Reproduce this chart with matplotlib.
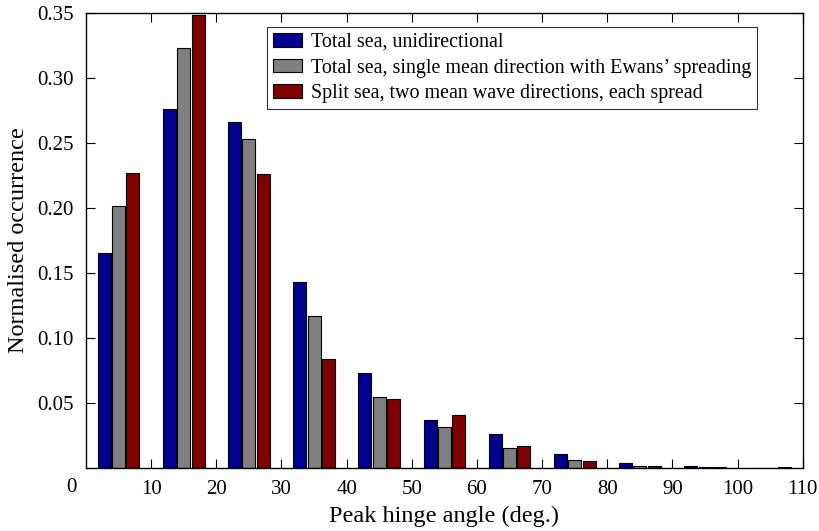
import numpy as np
import matplotlib
matplotlib.use("Agg")
import matplotlib.pyplot as plt

# Peak hinge angle bins (deg.) and normalised occurrence per sea-state model
bin_centres = [5, 15, 25, 35, 45, 55, 65, 75, 85, 95, 105]
total_uni = [0.165, 0.276, 0.266, 0.143, 0.073, 0.037, 0.026, 0.0108, 0.0038, 0.0010, 0.0]
total_spread = [0.201, 0.3226, 0.253, 0.1167, 0.0541, 0.0316, 0.0149, 0.0057, 0.0015, 0.0003, 0.0]
split_spread = [0.227, 0.348, 0.226, 0.0836, 0.0528, 0.0408, 0.0167, 0.0052, 0.0010, 0.0002, 0.0002]

series_labels = [
    "Total sea, unidirectional",
    "Total sea, single mean direction with Ewans\u2019 spreading",
    "Split sea, two mean wave directions, each spread",
]
series_colors = ["#000090", "#808080", "#800000"]

x_ticks = [10, 20, 30, 40, 50, 60, 70, 80, 90, 100, 110]
y_ticks = [0.05, 0.10, 0.15, 0.20, 0.25, 0.30, 0.35]

plt.rcParams["font.family"] = ["Liberation Serif", "DejaVu Serif"]

fig = plt.figure(figsize=(8.2, 5.31), dpi=100)
ax = fig.add_axes([0.1049, 0.1192, 0.8741, 0.8569])

x = np.array(bin_centres, dtype=float)
offsets = [-2.2, 0.0, 2.2]
width = 2.0
for vals, off, col, lab in zip([total_uni, total_spread, split_spread],
                               offsets, series_colors, series_labels):
    ax.bar(x + off, vals, width=width, color=col, edgecolor="black",
           linewidth=0.8, label=lab)

ax.set_xlim(0, 110)
ax.set_ylim(0, 0.35)
ax.set_xticks(x_ticks)
ax.set_xticklabels([str(t) for t in x_ticks])
ax.set_yticks(y_ticks)
ax.set_yticklabels([f"{t:.2f}" for t in y_ticks])
ax.tick_params(direction="in", length=6.5, width=0.8, top=True, right=True,
               labelsize=15, pad=9)
ax.text(-0.02, -0.022, "0", transform=ax.transAxes, ha="center", va="top",
        fontsize=15)

for s in ax.spines.values():
    s.set_linewidth(1.0)

ax.set_xlabel("Peak hinge angle (deg.)", fontsize=17.5, labelpad=5)
ax.set_ylabel("Normalised occurrence", fontsize=17.5, labelpad=6)

leg = ax.legend(loc="upper right", bbox_to_anchor=(0.936, 0.9686),
                borderaxespad=0, fancybox=False, edgecolor="black",
                fontsize=14.4, handlelength=1.45, handleheight=0.65,
                handletextpad=0.45, labelspacing=0.33, borderpad=0.3)
leg.get_frame().set_linewidth(0.8)

fig.savefig("out.png", dpi=100)
